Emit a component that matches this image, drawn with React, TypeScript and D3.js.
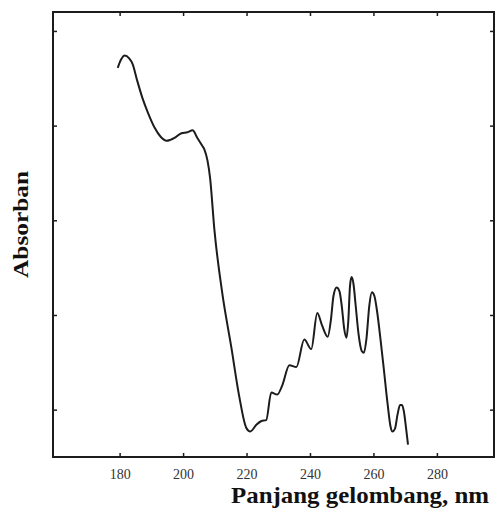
import { useEffect, useRef } from "react";
import * as d3 from "d3";

// spectrum (wavelength in nm, absorbance in arbitrary units)
const wavelength = [
  179.4, 180.5, 181.6, 183.0, 184.1, 185.5, 187.2, 189.0, 191.0, 193.0,
  194.8, 196.0, 197.3, 199.5, 201.4, 203.0, 204.5, 206.0, 206.7, 207.7,
  208.5, 209.9, 212.4, 215.2, 217.7, 219.9, 221.2, 223.1, 224.7, 226.2,
  227.8, 229.7, 231.3, 233.5, 235.7, 238.2, 240.4, 242.3, 243.8, 245.6,
  246.6, 247.4, 248.4, 249.3, 250.0, 250.8, 251.5, 252.1, 252.6, 253.1,
  253.7, 254.4, 255.3, 256.3, 257.0, 257.8, 258.7, 259.5, 260.3, 261.1,
  262.2, 263.3, 264.5, 265.4, 266.0, 266.8, 267.6, 268.4, 269.0, 269.6,
  270.3, 270.9,
];
const absorbance = [
  4.61, 4.70, 4.74, 4.71, 4.65, 4.48, 4.29, 4.13, 3.98, 3.88,
  3.84, 3.85, 3.87, 3.92, 3.93, 3.95, 3.87, 3.79, 3.75, 3.63,
  3.45, 2.89, 2.22, 1.66, 1.14, 0.81, 0.77, 0.84, 0.88, 0.89,
  1.18, 1.16, 1.26, 1.47, 1.45, 1.74, 1.64, 2.02, 1.89, 1.77,
  1.95, 2.20, 2.29, 2.25, 2.10, 1.85, 1.76, 1.95, 2.30, 2.40,
  2.33, 2.10, 1.80, 1.62, 1.60, 1.75, 2.10, 2.24, 2.20, 2.05,
  1.75, 1.42, 1.05, 0.82, 0.77, 0.80, 0.95, 1.05, 1.05, 0.98,
  0.80, 0.63,
];

const xTicks = [180, 200, 220, 240, 260, 280];
const yTicks = [1, 2, 3, 4, 5];

const xLabel = "Panjang gelombang, nm";
const yLabel = "Absorban";

export default function App() {
  const svgRef = useRef<SVGSVGElement | null>(null);

  useEffect(() => {
    if (!svgRef.current) return;

    const width = 496;
    const height = 512;
    const left = 53, right = 494, top = 12, bottom = 457;
    const ink = "#1c1c1c";

    const svg = d3.select(svgRef.current);
    svg.selectAll("*").remove();
    svg.attr("width", width).attr("height", height);

    svg.append("rect")
      .attr("width", width)
      .attr("height", height)
      .attr("fill", "#ffffff");

    const x = d3.scaleLinear().domain([159, 298]).range([left, right]);
    const y = d3.scaleLinear().domain([0.5, 5.2]).range([bottom, top]);

    // inward ticks on all four sides
    const tickStyle = (g: d3.Selection<SVGGElement, unknown, null, undefined>) => {
      g.select(".domain").remove();
      g.selectAll("line").attr("stroke", ink).attr("stroke-width", 1.5);
    };

    const xb = svg.append("g")
      .attr("transform", `translate(0,${bottom})`)
      .call(d3.axisBottom(x).tickValues(xTicks).tickSize(-4).tickPadding(10));
    tickStyle(xb);
    xb.selectAll("text")
      .attr("font-family", "'Liberation Serif', serif")
      .attr("font-size", 14)
      .attr("fill", "#333")
      .attr("dy", "0.85em");

    const xt = svg.append("g")
      .attr("transform", `translate(0,${top})`)
      .call(d3.axisTop(x).tickValues(xTicks).tickSize(-4).tickFormat(() => ""));
    tickStyle(xt);

    const yl = svg.append("g")
      .attr("transform", `translate(${left},0)`)
      .call(d3.axisLeft(y).tickValues(yTicks).tickSize(-4).tickFormat(() => ""));
    tickStyle(yl);

    const yr = svg.append("g")
      .attr("transform", `translate(${right},0)`)
      .call(d3.axisRight(y).tickValues(yTicks).tickSize(-4).tickFormat(() => ""));
    tickStyle(yr);

    // frame
    svg.append("rect")
      .attr("x", left)
      .attr("y", top)
      .attr("width", right - left)
      .attr("height", bottom - top)
      .attr("fill", "none")
      .attr("stroke", ink)
      .attr("stroke-width", 2);

    const points: [number, number][] = wavelength.map((w, i) => [w, absorbance[i]]);
    const line = d3.line<[number, number]>()
      .x(d => x(d[0]))
      .y(d => y(d[1]))
      .curve(d3.curveMonotoneX);

    svg.append("path")
      .datum(points)
      .attr("fill", "none")
      .attr("stroke", ink)
      .attr("stroke-width", 2)
      .attr("stroke-linejoin", "round")
      .attr("d", line);

    // axis titles
    svg.append("text")
      .attr("x", 231)
      .attr("y", 503)
      .attr("font-family", "'Liberation Serif', serif")
      .attr("font-weight", "bold")
      .attr("font-size", 23)
      .attr("fill", "#111")
      .attr("textLength", 258)
      .attr("lengthAdjust", "spacingAndGlyphs")
      .text(xLabel);

    svg.append("text")
      .attr("transform", "translate(28,278) rotate(-90)")
      .attr("font-family", "'Liberation Serif', serif")
      .attr("font-weight", "bold")
      .attr("font-size", 21)
      .attr("fill", "#111")
      .attr("textLength", 107)
      .attr("lengthAdjust", "spacingAndGlyphs")
      .text(yLabel);
  }, []);

  return (
    <div style={{ position: "absolute", left: 0, top: 0 }}>
      <svg ref={svgRef} style={{ display: "block" }}></svg>
    </div>
  );
}
